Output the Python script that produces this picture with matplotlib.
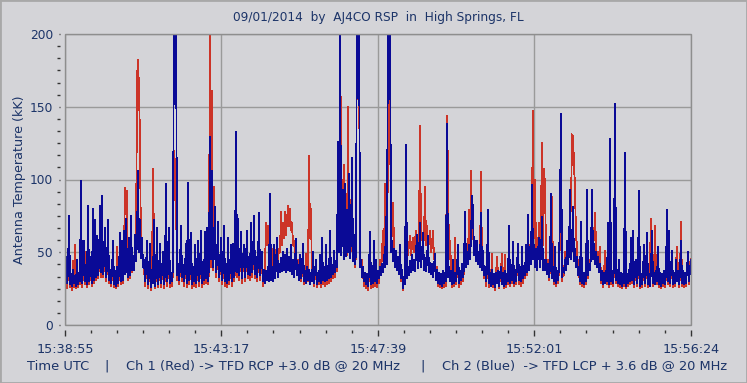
import numpy as np
import matplotlib
matplotlib.use("Agg")
import matplotlib.pyplot as plt
from matplotlib.patches import Rectangle

# ---------------- data ----------------
title = "09/01/2014  by  AJ4CO RSP  in  High Springs, FL"
ylabel = "Antenna Temperature (kK)"
tick_labels = ["15:38:55", "15:43:17", "15:47:39", "15:52:01", "15:56:24"]
tick_seconds = [0, 262, 524, 786, 1049]      # seconds after 15:38:55
duration_s = 1049

# Ch 2 (Blue), antenna temperature in kK, uniformly sampled over the record
ch2_blue = [
    30, 47, 29, 36, 75, 28, 35, 27, 38, 29, 34, 27, 45, 28, 36, 30, 99, 29, 37, 58,
    30, 38, 28, 82, 30, 36, 47, 29, 80, 31, 72, 33, 61, 34, 42, 82, 36, 89, 35, 44,
    67, 33, 40, 72, 31, 38, 29, 36, 58, 28, 37, 27, 40, 29, 36, 63, 30, 58, 31, 65,
    35, 73, 38, 33, 60, 34, 75, 38, 45, 38, 62, 44, 58, 106, 50, 72, 46, 60, 40, 45,
    30, 38, 58, 28, 35, 56, 26, 36, 29, 72, 27, 35, 67, 28, 36, 56, 29, 37, 50, 28,
    36, 97, 30, 38, 67, 29, 36, 30, 40, 230, 230, 230, 34, 42, 31, 40, 68, 33, 41, 30,
    38, 56, 29, 98, 31, 37, 63, 28, 36, 30, 55, 29, 37, 58, 30, 38, 65, 29, 36, 31,
    64, 32, 67, 30, 40, 129, 45, 106, 40, 48, 81, 36, 44, 71, 33, 40, 60, 31, 38, 68,
    30, 37, 29, 60, 31, 38, 55, 30, 56, 33, 40, 133, 36, 73, 34, 44, 64, 32, 45, 55,
    33, 44, 65, 35, 46, 34, 70, 36, 45, 75, 35, 47, 33, 43, 77, 34, 42, 50, 30, 38,
    29, 37, 31, 40, 30, 90, 31, 39, 30, 55, 32, 40, 60, 33, 42, 36, 46, 37, 50, 38,
    48, 36, 52, 38, 47, 37, 55, 35, 45, 33, 42, 59, 34, 41, 31, 48, 32, 38, 56, 30,
    37, 29, 40, 31, 38, 28, 36, 30, 50, 29, 37, 45, 28, 36, 30, 48, 29, 60, 31, 38,
    30, 55, 31, 39, 32, 65, 33, 40, 35, 51, 36, 44, 40, 126, 50, 230, 48, 58, 93, 45,
    97, 47, 79, 50, 104, 46, 60, 115, 44, 62, 42, 50, 230, 230, 230, 40, 45, 33, 40, 30,
    36, 28, 35, 27, 37, 64, 28, 36, 29, 58, 30, 45, 29, 37, 32, 40, 34, 42, 36, 48,
    40, 74, 42, 230, 230, 230, 50, 58, 44, 52, 40, 51, 38, 47, 35, 55, 32, 38, 25, 33,
    28, 124, 32, 40, 34, 44, 36, 48, 38, 45, 37, 50, 62, 39, 47, 70, 40, 48, 63, 38,
    46, 37, 44, 61, 36, 43, 35, 42, 33, 40, 49, 31, 38, 29, 36, 28, 35, 27, 37, 29,
    36, 30, 138, 33, 40, 30, 37, 28, 45, 29, 36, 30, 38, 55, 29, 37, 31, 42, 33, 40,
    78, 40, 50, 42, 55, 45, 60, 89, 79, 48, 58, 44, 58, 42, 50, 40, 77, 38, 51, 34,
    40, 30, 38, 79, 29, 36, 27, 38, 28, 35, 26, 36, 29, 37, 27, 35, 40, 28, 36, 27,
    37, 28, 35, 30, 68, 29, 37, 31, 57, 29, 38, 30, 40, 56, 31, 39, 30, 54, 32, 40,
    34, 55, 36, 76, 38, 48, 42, 96, 45, 55, 40, 52, 38, 50, 60, 40, 48, 74, 38, 45,
    38, 45, 35, 42, 33, 40, 90, 32, 39, 30, 54, 29, 37, 31, 40, 80, 145, 33, 38, 36,
    45, 38, 58, 42, 50, 93, 45, 55, 81, 44, 52, 40, 47, 34, 40, 30, 71, 29, 36, 28,
    36, 30, 93, 34, 42, 38, 48, 93, 45, 56, 42, 50, 40, 47, 36, 42, 31, 37, 28, 36,
    29, 37, 30, 70, 28, 128, 30, 37, 29, 40, 152, 31, 38, 29, 45, 28, 36, 27, 35, 29,
    118, 27, 35, 29, 38, 30, 60, 31, 65, 28, 36, 45, 29, 37, 92, 27, 35, 28, 36, 55,
    29, 37, 63, 28, 35, 27, 38, 65, 29, 36, 28, 37, 30, 54, 28, 36, 27, 35, 29, 37,
    28, 36, 79, 30, 65, 29, 37, 51, 28, 36, 29, 45, 30, 37, 28, 36, 58, 29, 37, 28,
    36, 29, 38, 50, 30, 38, 45,
]

# Ch 1 (Red), antenna temperature in kK, same sampling
ch1_red = [
    27, 40, 25, 34, 45, 26, 33, 24, 44, 26, 55, 25, 40, 26, 33, 28, 60, 26, 34, 45,
    28, 50, 26, 55, 28, 33, 40, 27, 50, 29, 55, 31, 60, 32, 40, 60, 33, 55, 33, 40,
    63, 30, 38, 50, 29, 35, 27, 33, 45, 26, 34, 25, 54, 27, 33, 50, 28, 45, 29, 50,
    94, 90, 92, 31, 45, 32, 60, 36, 42, 38, 55, 45, 170, 182, 162, 127, 48, 55, 40, 40,
    27, 35, 45, 25, 33, 45, 24, 34, 107, 55, 25, 33, 50, 26, 34, 45, 26, 35, 40, 25,
    33, 60, 27, 35, 50, 26, 34, 27, 37, 120, 110, 90, 31, 40, 28, 37, 55, 30, 38, 27,
    35, 45, 26, 60, 28, 34, 50, 25, 33, 27, 45, 26, 34, 50, 27, 35, 55, 26, 33, 28,
    50, 29, 60, 28, 37, 230, 40, 161, 38, 95, 60, 33, 42, 60, 30, 38, 50, 28, 35, 55,
    27, 34, 26, 50, 28, 35, 45, 27, 48, 30, 37, 90, 33, 60, 31, 41, 55, 29, 42, 45,
    30, 41, 55, 32, 43, 31, 60, 33, 42, 60, 32, 44, 30, 40, 62, 31, 39, 45, 27, 35,
    40, 70, 55, 68, 50, 60, 45, 52, 40, 55, 42, 50, 55, 45, 52, 50, 78, 55, 70, 60,
    78, 62, 72, 82, 68, 80, 65, 70, 55, 58, 48, 50, 42, 45, 36, 42, 30, 36, 45, 28,
    35, 49, 38, 30, 116, 60, 80, 30, 40, 27, 34, 40, 26, 33, 28, 40, 26, 45, 28, 35,
    27, 45, 28, 36, 29, 50, 30, 37, 32, 45, 33, 41, 37, 100, 60, 120, 157, 60, 80, 110,
    50, 55, 48, 150, 60, 48, 86, 55, 45, 50, 40, 48, 230, 230, 200, 45, 42, 45, 36, 27,
    33, 25, 32, 24, 34, 50, 25, 33, 26, 45, 27, 40, 26, 34, 29, 45, 35, 50, 65, 45,
    97, 60, 50, 120, 179, 150, 55, 65, 84, 55, 45, 48, 40, 45, 36, 48, 30, 35, 24, 30,
    30, 65, 45, 50, 55, 61, 48, 55, 60, 50, 58, 65, 55, 52, 60, 137, 58, 62, 55, 60,
    95, 55, 68, 52, 58, 65, 50, 55, 65, 45, 48, 35, 40, 27, 34, 26, 33, 25, 34, 26,
    33, 27, 144, 103, 45, 58, 40, 26, 40, 27, 60, 28, 36, 45, 26, 35, 28, 40, 30, 38,
    60, 42, 50, 45, 79, 50, 106, 70, 65, 50, 55, 45, 52, 44, 48, 42, 105, 40, 45, 32,
    36, 27, 35, 55, 26, 34, 30, 49, 26, 33, 24, 34, 47, 34, 25, 33, 38, 49, 33, 25,
    48, 26, 33, 28, 50, 27, 35, 29, 45, 27, 36, 28, 38, 45, 28, 37, 27, 45, 29, 38,
    32, 45, 34, 60, 40, 55, 50, 80, 147, 60, 100, 50, 60, 45, 70, 48, 75, 125, 55, 107,
    96, 50, 40, 45, 31, 38, 70, 88, 36, 28, 45, 27, 35, 29, 38, 60, 90, 30, 36, 34,
    50, 45, 55, 50, 60, 75, 80, 131, 130, 110, 95, 60, 55, 38, 36, 28, 55, 27, 34, 26,
    33, 28, 60, 32, 45, 40, 50, 70, 55, 60, 77, 55, 45, 50, 40, 54, 29, 35, 26, 34,
    51, 34, 28, 55, 26, 80, 28, 35, 27, 37, 90, 29, 36, 27, 40, 26, 34, 25, 33, 27,
    80, 25, 33, 27, 35, 28, 50, 29, 50, 26, 34, 45, 27, 35, 60, 25, 33, 26, 34, 45,
    27, 35, 50, 26, 33, 45, 73, 55, 27, 34, 68, 35, 28, 45, 26, 34, 25, 33, 27, 35,
    26, 34, 60, 28, 55, 27, 35, 45, 26, 34, 27, 40, 54, 35, 26, 34, 71, 27, 35, 26,
    34, 27, 40, 45, 28, 43, 45,
]

bottom_parts = ["Time UTC", "|", "Ch 1 (Red) -> TFD RCP +3.0 dB @ 20 MHz",
                "|", "Ch 2 (Blue)  -> TFD LCP + 3.6 dB @ 20 MHz"]

# ---------------- style ----------------
W, H = 747, 383
BG = "#d4d4d8"
TXT = "#1c3468"
RED = "#cc3428"
BLUE = "#0a0a96"
GRID = "#9a9a9a"

fig = plt.figure(figsize=(W / 100, H / 100), dpi=100, facecolor=BG)
ax = fig.add_axes([65 / W, 1 - 325 / H, (691 - 65) / W, (325 - 34) / H])
ax.set_facecolor(BG)

t_red = np.linspace(0, duration_s, len(ch1_red))
t_blue = np.linspace(0, duration_s, len(ch2_blue))
ax.plot(t_red, ch1_red, color=RED, lw=0.6, antialiased=False, zorder=3)
ax.plot(t_blue, ch2_blue, color=BLUE, lw=0.6, antialiased=False, zorder=4)

ax.set_xlim(0, duration_s)
ax.set_ylim(0, 200)

ax.set_xticks(tick_seconds)
ax.set_xticklabels(tick_labels)
minor_x = []
for a, b in zip(tick_seconds[:-1], tick_seconds[1:]):
    minor_x += [a + (b - a) * k / 6 for k in range(1, 6)]
ax.set_xticks(minor_x, minor=True)
ax.set_yticks([0, 50, 100, 150, 200])
minor_y = []
for a in [0, 50, 100, 150]:
    minor_y += [a + 50 * k / 6 for k in range(1, 6)]
ax.set_yticks(minor_y, minor=True)

ax.grid(True, which="major", color=GRID, lw=1.0, zorder=1)

for s in ax.spines.values():
    s.set_visible(False)
ax.spines["bottom"].set_position(("outward", 3.6))
ax.spines["left"].set_position(("outward", 3.6))
ax.add_patch(Rectangle((0, 0), 1, 1, transform=ax.transAxes, fill=False,
                       edgecolor="#8e8e8e", lw=1.0, zorder=5, clip_on=False))

ax.tick_params(axis="x", which="major", length=4.6, width=1, color="#333333",
               labelsize=9.2, labelcolor=TXT, pad=5)
ax.tick_params(axis="x", which="minor", length=2.2, width=1, color="#333333")
ax.tick_params(axis="y", which="major", length=1.0, width=1, color="#333333",
               labelsize=8.8, labelcolor=TXT, pad=4)
ax.tick_params(axis="y", which="minor", length=2.2, width=1, color="#333333")

fig.text(378 / W, 1 - 18 / H, title, ha="center", va="center", fontsize=8.7, color=TXT)
fig.text(20 / W, 1 - 180 / H, ylabel, ha="center", va="center", rotation=90,
         fontsize=9.2, color=TXT)

yb = 1 - 366 / H
fs_b = 9.4
fig.text(27 / W, yb, bottom_parts[0], ha="left", va="center", fontsize=fs_b, color=TXT)
fig.text(106.5 / W, yb, bottom_parts[1], ha="center", va="center", fontsize=fs_b, color=TXT)
fig.text(126 / W, yb, bottom_parts[2], ha="left", va="center", fontsize=fs_b, color=TXT)
fig.text(422.5 / W, yb, bottom_parts[3], ha="center", va="center", fontsize=fs_b, color=TXT)
fig.text(442 / W, yb, bottom_parts[4], ha="left", va="center", fontsize=fs_b, color=TXT)

fig.patches.append(Rectangle((0, 0), 1, 1, transform=fig.transFigure, fill=False,
                             edgecolor="#a8a8a8", lw=2.0, zorder=10))

fig.savefig("out.png", dpi=100, facecolor=BG)
